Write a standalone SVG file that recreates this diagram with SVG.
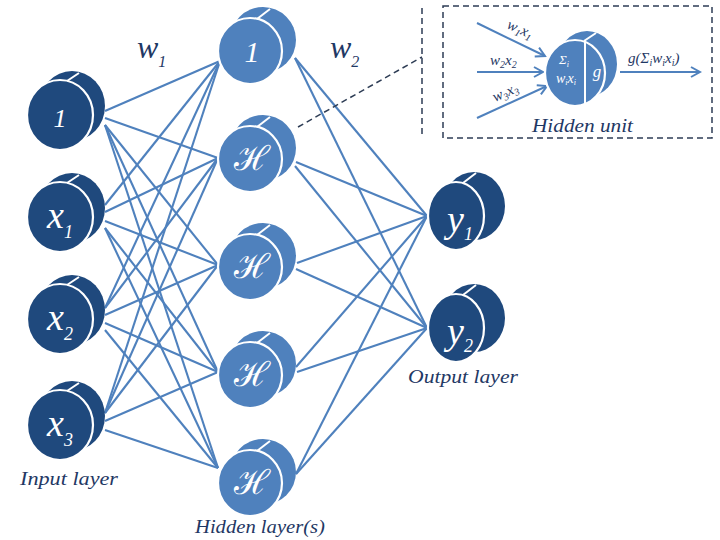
<svg xmlns="http://www.w3.org/2000/svg" width="720" height="540" viewBox="0 0 720 540">
<style>
.bg{fill:#ffffff}
.dk{fill:#1f497d}
.lt{fill:#4f81bd}
.edge{stroke:#ffffff;stroke-width:2.2}
.seam{stroke:#ffffff;stroke-width:2;fill:none}
.conn line{stroke:#4f81bd;stroke-width:2.1}
.conn line.dash,.dash{stroke:#2e3d55;stroke-width:1.5;stroke-dasharray:6,4;fill:none}
.arr{stroke:#4f81bd;stroke-width:2;fill:none}
.nt{font-family:"Liberation Serif","DejaVu Serif",serif;font-style:italic;fill:#ffffff;text-anchor:middle}
.sc{font-family:"DejaVu Serif","Liberation Serif",serif;font-style:normal;fill:#ffffff;text-anchor:middle}
.lbl{font-family:"Liberation Serif","DejaVu Serif",serif;font-style:italic;fill:#1f3864}
</style>
<defs>
<marker id="ah" markerWidth="12" markerHeight="12" refX="10" refY="6" orient="auto" markerUnits="userSpaceOnUse">
<path d="M1,1 L10,6 L1,11" stroke="#4f81bd" stroke-width="2" fill="none"/>
</marker>
</defs>
<rect class="bg" x="0" y="0" width="720" height="540"/>

<g id="connectors" class="conn">
<!-- input -> hidden -->
<line x1="105" y1="111" x2="220" y2="61"/>
<line x1="105" y1="118" x2="218" y2="158"/>
<line x1="105" y1="125" x2="218" y2="265"/>
<line x1="105" y1="125" x2="218" y2="372"/>
<line x1="105" y1="125" x2="218" y2="468"/>
<line x1="105" y1="205" x2="220" y2="61"/>
<line x1="105" y1="212" x2="218" y2="158"/>
<line x1="105" y1="221" x2="218" y2="265"/>
<line x1="105" y1="228" x2="218" y2="372"/>
<line x1="105" y1="228" x2="218" y2="468"/>
<line x1="105" y1="308" x2="220" y2="61"/>
<line x1="105" y1="308" x2="218" y2="158"/>
<line x1="105" y1="315" x2="218" y2="265"/>
<line x1="105" y1="323" x2="218" y2="372"/>
<line x1="105" y1="330" x2="218" y2="468"/>
<line x1="105" y1="413" x2="220" y2="61"/>
<line x1="105" y1="413" x2="218" y2="158"/>
<line x1="105" y1="413" x2="218" y2="265"/>
<line x1="105" y1="421" x2="218" y2="372"/>
<line x1="105" y1="430" x2="218" y2="468"/>
<!-- hidden -> output -->
<line x1="295" y1="58" x2="427" y2="216"/>
<line x1="295" y1="58" x2="427" y2="328"/>
<line x1="296" y1="162" x2="427" y2="216"/>
<line x1="295" y1="166" x2="427" y2="328"/>
<line x1="297" y1="263" x2="427" y2="216"/>
<line x1="296" y1="269" x2="427" y2="328"/>
<line x1="296" y1="367" x2="427" y2="216"/>
<line x1="297" y1="372" x2="427" y2="328"/>
<line x1="296" y1="474" x2="427" y2="216"/>
<line x1="296" y1="474" x2="427" y2="328"/>
<!-- zoom callout -->
<line class="dash" x1="298" y1="127" x2="422" y2="57"/>
<line class="dash" x1="422" y1="8" x2="422" y2="138"/>
</g>

<!-- Input layer -->
<g id="in-bias">
<ellipse class="dk" cx="72" cy="106" rx="33" ry="35"/>
<ellipse class="dk edge" cx="60" cy="115" rx="33" ry="35"/>
<path class="seam" d="M67,81 L79,73"/>
<text class="nt" x="60" y="127" font-size="26">1</text>
</g>
<g id="in-x1">
<ellipse class="dk" cx="72" cy="208" rx="33" ry="35"/>
<ellipse class="dk edge" cx="60" cy="217" rx="33" ry="35"/>
<path class="seam" d="M67,183 L79,175"/>
<text class="nt" x="60" y="228" font-size="38">x<tspan font-size="18" dy="10">1</tspan></text>
</g>
<g id="in-x2">
<ellipse class="dk" cx="72" cy="310" rx="33" ry="35"/>
<ellipse class="dk edge" cx="60" cy="319" rx="33" ry="35"/>
<path class="seam" d="M67,285 L79,277"/>
<text class="nt" x="60" y="330" font-size="38">x<tspan font-size="18" dy="10">2</tspan></text>
</g>
<g id="in-x3">
<ellipse class="dk" cx="72" cy="416" rx="33" ry="35"/>
<ellipse class="dk edge" cx="60" cy="425" rx="33" ry="35"/>
<path class="seam" d="M67,391 L79,383"/>
<text class="nt" x="60" y="436" font-size="38">x<tspan font-size="18" dy="10">3</tspan></text>
</g>

<!-- Hidden layer -->
<g id="hid-bias">
<ellipse class="lt" cx="263" cy="40" rx="33" ry="33"/>
<ellipse class="lt edge" cx="250" cy="51" rx="32" ry="33"/>
<path class="seam" d="M257,19 L270,9"/>
<text class="nt" x="252" y="62" font-size="30">1</text>
</g>
<g id="hid-h1">
<ellipse class="lt" cx="263" cy="148" rx="33" ry="33"/>
<ellipse class="lt edge" cx="250" cy="159" rx="32" ry="33"/>
<path class="seam" d="M257,127 L270,117"/>
<text class="sc" x="252" y="170" font-size="34">ℋ</text>
</g>
<g id="hid-h2">
<ellipse class="lt" cx="263" cy="256" rx="33" ry="33"/>
<ellipse class="lt edge" cx="250" cy="267" rx="32" ry="33"/>
<path class="seam" d="M257,235 L270,225"/>
<text class="sc" x="252" y="278" font-size="34">ℋ</text>
</g>
<g id="hid-h3">
<ellipse class="lt" cx="263" cy="364" rx="33" ry="33"/>
<ellipse class="lt edge" cx="250" cy="375" rx="32" ry="33"/>
<path class="seam" d="M257,343 L270,333"/>
<text class="sc" x="252" y="386" font-size="34">ℋ</text>
</g>
<g id="hid-h4">
<ellipse class="lt" cx="263" cy="472" rx="33" ry="33"/>
<ellipse class="lt edge" cx="250" cy="483" rx="32" ry="33"/>
<path class="seam" d="M257,451 L270,441"/>
<text class="sc" x="252" y="494" font-size="34">ℋ</text>
</g>

<!-- Output layer -->
<g id="out-y1">
<ellipse class="dk" cx="474" cy="206" rx="31" ry="34"/>
<ellipse class="dk edge" cx="456" cy="216" rx="28" ry="34"/>
<path class="seam" d="M463,183 L476,173"/>
<text class="nt" x="460" y="232" font-size="38">y<tspan font-size="18" dy="8">1</tspan></text>
</g>
<g id="out-y2">
<ellipse class="dk" cx="474" cy="318" rx="31" ry="34"/>
<ellipse class="dk edge" cx="456" cy="328" rx="28" ry="34"/>
<path class="seam" d="M463,295 L476,285"/>
<text class="nt" x="460" y="344" font-size="38">y<tspan font-size="18" dy="8">2</tspan></text>
</g>

<!-- Weight labels -->
<text class="lbl" x="137" y="58" font-size="32">w<tspan font-size="16" dy="9">1</tspan></text>
<text class="lbl" x="330" y="58" font-size="32">w<tspan font-size="16" dy="9">2</tspan></text>

<!-- Layer labels -->
<text class="lbl" x="20" y="485" font-size="19" textLength="98" lengthAdjust="spacingAndGlyphs">Input layer</text>
<text class="lbl" x="195" y="533" font-size="19" textLength="130" lengthAdjust="spacingAndGlyphs">Hidden layer(s)</text>
<text class="lbl" x="408" y="383" font-size="19" textLength="110" lengthAdjust="spacingAndGlyphs">Output layer</text>

<!-- Hidden unit detail -->
<g id="hidden-unit-box">
<rect class="dash" x="443" y="6" width="269" height="132"/>
<line class="arr" x1="477" y1="23" x2="545" y2="56" marker-end="url(#ah)"/>
<line class="arr" x1="477" y1="72" x2="543" y2="72" marker-end="url(#ah)"/>
<line class="arr" x1="477" y1="118" x2="547" y2="86" marker-end="url(#ah)"/>
<line class="arr" x1="620" y1="72" x2="700" y2="72" marker-end="url(#ah)"/>
<text class="lbl" x="0" y="0" font-size="15" transform="translate(506,28) rotate(24)">w<tspan font-size="10" dy="3">1</tspan><tspan dy="-3">x</tspan><tspan font-size="10" dy="3">1</tspan></text>
<text class="lbl" x="490" y="65" font-size="15">w<tspan font-size="10" dy="3">2</tspan><tspan dy="-3">x</tspan><tspan font-size="10" dy="3">2</tspan></text>
<text class="lbl" x="0" y="0" font-size="15" transform="translate(495,102) rotate(-24)">w<tspan font-size="10" dy="3">3</tspan><tspan dy="-3">x</tspan><tspan font-size="10" dy="3">3</tspan></text>
<text class="lbl" x="628" y="63" font-size="15">g(Σ<tspan font-size="10" dy="3">i</tspan><tspan dy="-3">w</tspan><tspan font-size="10" dy="3">i</tspan><tspan dy="-3">x</tspan><tspan font-size="10" dy="3">i</tspan><tspan dy="-3">)</tspan></text>
<text class="lbl" x="532" y="132" font-size="18" textLength="101" lengthAdjust="spacingAndGlyphs">Hidden unit</text>
</g>
<g id="hidden-unit">
<ellipse class="lt" cx="587" cy="64" rx="30" ry="33"/>
<ellipse class="lt edge" cx="575" cy="73" rx="30" ry="33"/>
<path class="seam" d="M584,41 L596,33"/>
<line class="seam" x1="585" y1="41" x2="585" y2="105"/>
<text class="nt" x="564" y="64" font-size="13">Σ<tspan font-size="8" dy="3">i</tspan></text>
<text class="nt" x="566" y="83" font-size="14">w<tspan font-size="8" dy="2">i</tspan><tspan dy="-2">x</tspan><tspan font-size="8" dy="2">i</tspan></text>
<text class="nt" x="597" y="77" font-size="17">g</text>
</g>
</svg>
